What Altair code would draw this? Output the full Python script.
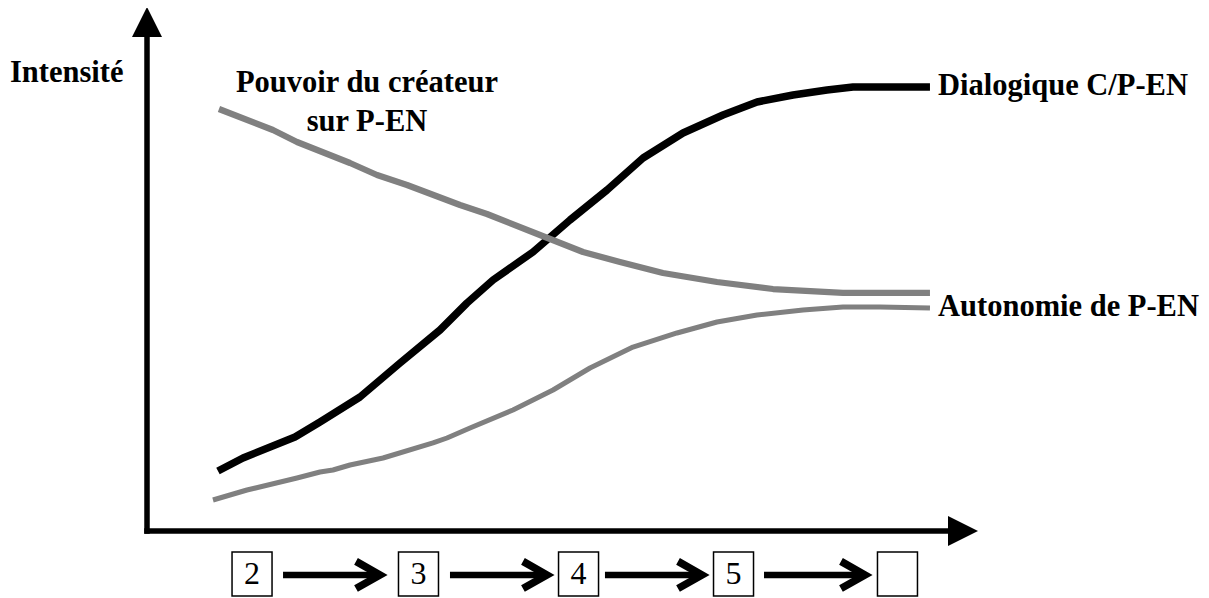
import altair as alt
import pandas as pd

# ---- data (units: time 0-100 along the x arrow, intensity 0-100 along the y arrow)
dial_x = [8.54, 11.55, 17.81, 20.82, 25.63, 30.45, 35.26, 38.51, 41.64, 46.45, 50.90,
          55.36, 59.69, 64.50, 69.31, 73.41, 77.74, 81.83, 84.96, 94.22]
dial_y = [11.47, 13.96, 17.97, 20.84, 25.62, 32.12, 38.43, 43.59, 47.99, 53.35, 59.46,
          65.20, 71.32, 76.10, 79.54, 82.03, 83.37, 84.32, 84.89, 84.89]

pouv_x = [8.66, 15.16, 18.05, 24.43, 27.68, 31.29, 37.67, 40.91, 47.29, 52.47, 56.92,
          62.09, 68.59, 75.33, 83.75, 94.22]
pouv_y = [80.69, 76.67, 74.38, 70.36, 68.07, 66.16, 62.33, 60.61, 56.60, 53.35, 51.43,
          49.33, 47.61, 46.27, 45.51, 45.51]

auto_x = [7.94, 12.03, 18.05, 20.82, 22.38, 24.43, 28.40, 34.42, 36.10, 38.87, 44.04,
          48.86, 53.31, 58.48, 63.78, 68.59, 73.41, 78.94, 83.75, 88.21, 94.22]
auto_y = [5.93, 7.84, 10.13, 11.28, 11.66, 12.62, 13.96, 16.83, 17.78, 19.69, 23.14,
          26.96, 31.17, 35.18, 37.86, 39.96, 41.30, 42.26, 42.83, 42.83, 42.64]

series_names = ["Dialogique C/P-EN", "Pouvoir du créateur sur P-EN", "Autonomie de P-EN"]

stage_x = [12.64, 32.67, 51.93, 70.58, 90.31]
stage_labels = ["2", "3", "4", "5", ""]
arrow_start = [16.37, 36.46, 55.11, 74.25]
arrow_end = [28.04, 48.13, 66.79, 86.40]

left_labels = ["Intensité", "Dialogique C/P-EN", "Autonomie de P-EN"]
left_label_x = [-16.49, 95.19, 95.19]
left_label_y = [85.85, 83.46, 41.11]
center_labels = ["Pouvoir du créateur", "sur P-EN"]
center_label_x = [26.47, 26.47]
center_label_y = [83.94, 76.48]

# ---- tables
rows = []
for name, xs_, ys_ in zip(series_names, [dial_x, pouv_x, auto_x], [dial_y, pouv_y, auto_y]):
    for i, (a, b) in enumerate(zip(xs_, ys_)):
        rows.append({"series": name, "x": a, "y": b, "i": i})
lines_df = pd.DataFrame(rows)

stage_df = pd.DataFrame({"x": stage_x, "label": stage_labels, "y": [-8.22] * 5})
arrow_df = pd.DataFrame({"x": arrow_start, "x2": arrow_end, "y": [-8.41] * 4})
axis_df = pd.DataFrame({"x": [0, 0], "y": [0, 0], "x2": [0, 97], "y2": [95, 0]})
head_df = pd.DataFrame({"x": [0, 100], "y": [100.2, 0], "dir": ["up", "right"]})
left_df = pd.DataFrame({"text": left_labels, "x": left_label_x, "y": left_label_y})
center_df = pd.DataFrame({"text": center_labels, "x": center_label_x, "y": center_label_y})

xs = alt.Scale(domain=[0, 100], nice=False, zero=False)
ys = alt.Scale(domain=[0, 100], nice=False, zero=False)
X = lambda f="x": alt.X(f"{f}:Q", scale=xs, axis=None)
Y = lambda f="y": alt.Y(f"{f}:Q", scale=ys, axis=None)

FONT = "Liberation Serif"

lines = alt.Chart(lines_df).mark_line(strokeJoin="round").encode(
    x=X(), y=Y(), order="i:Q",
    detail="series:N",
    color=alt.Color("series:N", scale=alt.Scale(domain=series_names,
                    range=["#000000", "#808080", "#808080"]), legend=None),
    strokeWidth=alt.StrokeWidth("series:N", scale=alt.Scale(domain=series_names,
                    range=[7.5, 5, 5]), legend=None),
)

axes_rules = alt.Chart(axis_df).mark_rule(color="black", strokeWidth=5.5, strokeCap="square").encode(
    x=X(), y=Y(), x2="x2:Q", y2="y2:Q"
)

heads = alt.Chart(head_df).mark_point(filled=True, opacity=1, color="black", size=900).encode(
    x=X(), y=Y(),
    shape=alt.Shape("dir:N", scale=alt.Scale(domain=["up", "right"],
                    range=["M0,0L-1,2L1,2Z", "M0,0L-2,-1L-2,1Z"]), legend=None),
)

arrow_lines = alt.Chart(arrow_df).mark_rule(color="black", strokeWidth=6.5).encode(
    x=X(), x2="x2:Q", y=Y()
)
chevrons = alt.Chart(arrow_df).mark_point(
    filled=False, opacity=1, color="black", strokeWidth=7.5, strokeJoin="miter",
    shape="M-1.5,-0.85L0,0L-1.5,0.85", size=1024,
).encode(x=X("x2"), y=Y())

boxes = alt.Chart(stage_df).mark_point(
    filled=False, opacity=1, color="black", strokeWidth=1.5,
    shape="M-1,-1.1L1,-1.1L1,1.1L-1,1.1Z", size=1600,
).encode(x=X(), y=Y())
digits = alt.Chart(stage_df).mark_text(
    font=FONT, fontSize=32, align="center", baseline="middle", color="black"
).encode(x=X(), y=Y(), text="label:N")

left_text = alt.Chart(left_df).mark_text(
    font=FONT, fontSize=30.5, fontWeight="bold", align="left", baseline="alphabetic", color="black"
).encode(x=X(), y=Y(), text="text:N")
center_text = alt.Chart(center_df).mark_text(
    font=FONT, fontSize=30.5, fontWeight="bold", align="center", baseline="alphabetic", color="black"
).encode(x=X(), y=Y(), text="text:N")

chart = alt.layer(
    lines, axes_rules, heads, arrow_lines, chevrons, boxes, digits, left_text, center_text
).properties(
    width=831, height=523,
    padding={"left": 139, "top": 0, "right": 223, "bottom": 67},
    autosize=alt.AutoSizeParams(type="none"),
    background="white",
).configure_view(stroke=None)

chart.save("out.html", embed_options={"renderer": "svg", "actions": False})
